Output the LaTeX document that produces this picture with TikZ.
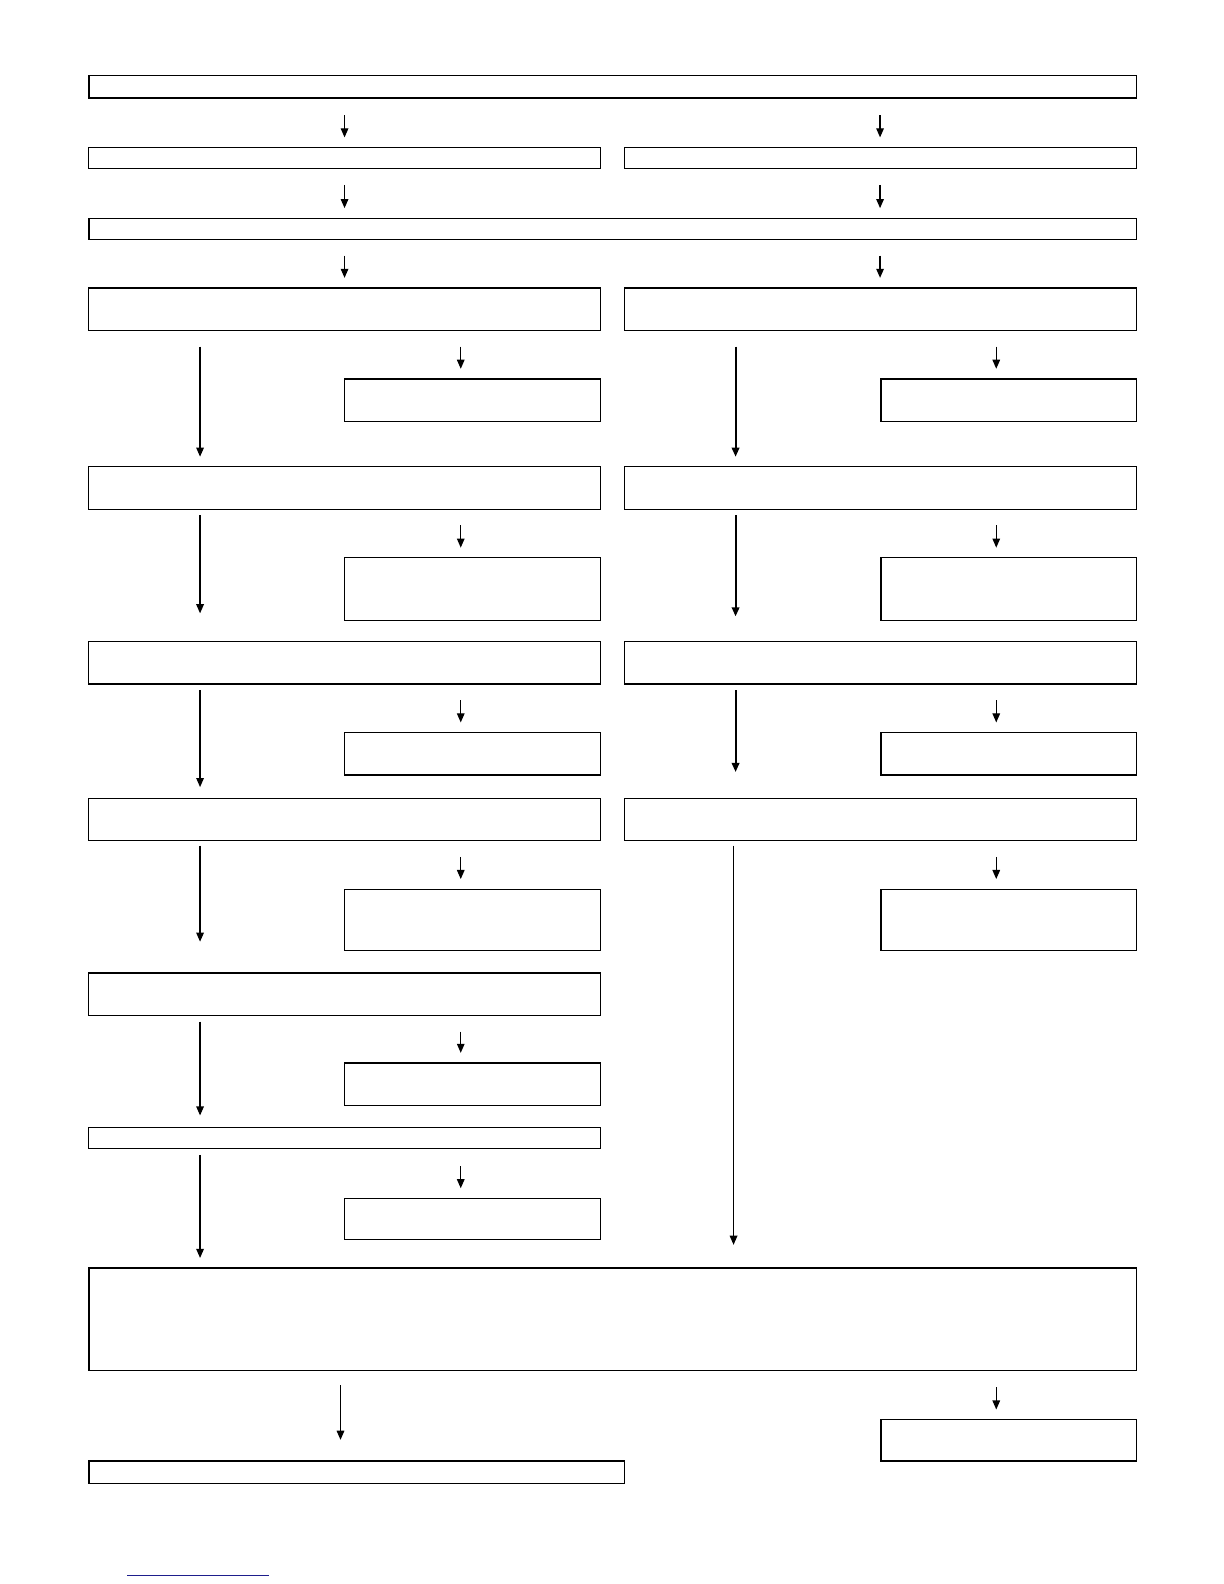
\documentclass[tikz,border=0pt]{standalone}
\usetikzlibrary{arrows.meta}
\definecolor{linkblue}{RGB}{30,30,140}
\tikzset{
  box/.style={draw, line width=1.2pt, inner sep=0, outer sep=0},
  wide/.style={box, minimum width=1037pt},
  half/.style={box, minimum width=507pt},
  side/.style={box, minimum width=253pt},
  flow/.style={-{Triangle[length=9pt,width=7.5pt]}, line width=1.2pt},
  short/.style={flow, shorten <=16pt, shorten >=10pt},
  heavy/.style={flow, line width=1.9pt}
}
\begin{document}
\begin{tikzpicture}[x=1pt,y=-1pt]
    \useasboundingbox (0,0) rectangle (1211.4,1567.7);
    % main boxes
    \node[wide, minimum height=22pt] (top) at (606.5,86) {};
    \node[half, minimum height=21pt] (lone) at (341,156.5) {};
    \node[half, minimum height=21pt] (rone) at (871.5,156.5) {};
    \node[wide, minimum height=21pt] (merge) at (606.5,226.5) {};
    \node[half, minimum height=42pt] (lstep1) at (341,306) {};
    \node[half, minimum height=42pt] (rstep1) at (871.5,306) {};
    \node[half, minimum height=42pt] (lstep2) at (341,483) {};
    \node[half, minimum height=42pt] (rstep2) at (871.5,483) {};
    \node[half, minimum height=42pt] (lstep3) at (341,656) {};
    \node[half, minimum height=42pt] (rstep3) at (871.5,656) {};
    \node[half, minimum height=42pt] (lstep4) at (341,811) {};
    \node[half, minimum height=42pt] (rstep4) at (871.5,811) {};
    \node[half, minimum height=42pt] (lstep5) at (341,984) {};
    \node[half, minimum height=21pt] (lstep6) at (341,1126.5) {};
    \node[wide, minimum height=101pt] (result) at (606.5,1305.5) {};
    \node[box, minimum width=530pt, minimum height=22pt] (final) at (353,1457) {};
    % side boxes
    \node[side, minimum height=42pt] (lnote1) at (467.5,396) {};
    \node[side, minimum height=42pt] (rnote1) at (998.5,396) {};
    \node[side, minimum height=62pt] (lnote2) at (467.5,583) {};
    \node[side, minimum height=62pt] (rnote2) at (998.5,583) {};
    \node[side, minimum height=42pt] (lnote3) at (467.5,746) {};
    \node[side, minimum height=42pt] (rnote3) at (998.5,746) {};
    \node[side, minimum height=61pt] (lnote4) at (467.5,910.5) {};
    \node[side, minimum height=61pt] (rnote4) at (998.5,910.5) {};
    \node[side, minimum height=42pt] (lnote5) at (467.5,1073) {};
    \node[side, minimum height=41pt] (lnote6) at (467.5,1206.5) {};
    \node[side, minimum height=41pt] (rnote5) at (998.5,1425.5) {};
    % short arrows
    \draw[short, shorten <=17pt] (341,0 |- top.south) -- (lone.north);
    \draw[short, shorten <=17pt] (871,0 |- top.south) -- (871,0 |- rone.north);
    \draw[short] (lone.south) -- (341,0 |- merge.north);
    \draw[short] (871,0 |- rone.south) -- (871,0 |- merge.north);
    \draw[short] (341,0 |- merge.south) -- (lstep1.north);
    \draw[short] (871,0 |- merge.south) -- (871,0 |- rstep1.north);
    \draw[short] (456,0 |- lstep1.south) -- (456,0 |- lnote1.north);
    \draw[short] (986,0 |- rstep1.south) -- (986,0 |- rnote1.north);
    \draw[short] (456,0 |- lstep2.south) -- (456,0 |- lnote2.north);
    \draw[short] (986,0 |- rstep2.south) -- (986,0 |- rnote2.north);
    \draw[short] (456,0 |- lstep3.south) -- (456,0 |- lnote3.north);
    \draw[short] (986,0 |- rstep3.south) -- (986,0 |- rnote3.north);
    \draw[short] (456,0 |- lstep4.south) -- (456,0 |- lnote4.north);
    \draw[short] (986,0 |- rstep4.south) -- (986,0 |- rnote4.north);
    \draw[short] (456,0 |- lstep5.south) -- (456,0 |- lnote5.north);
    \draw[short, shorten <=17pt] (456,0 |- lstep6.south) -- (456,0 |- lnote6.north);
    \draw[short, shorten <=17pt] (986,0 |- result.south) -- (986,0 |- rnote5.north);
    % long arrows, left column
    \draw[flow, shorten <=16pt, shorten >=10pt] (198,0 |- lstep1.south) -- (198,0 |- lstep2.north);
    \draw[flow, shorten <=6pt, shorten >=28pt] (198,0 |- lstep2.south) -- (198,0 |- lstep3.north);
    \draw[flow, shorten <=6pt, shorten >=11pt] (198,0 |- lstep3.south) -- (198,0 |- lstep4.north);
    \draw[flow, shorten <=5pt, shorten >=31pt] (198,0 |- lstep4.south) -- (198,0 |- lstep5.north);
    \draw[flow, shorten <=6pt, shorten >=12pt] (198,0 |- lstep5.south) -- (198,0 |- lstep6.north);
    \draw[flow, shorten <=6pt, shorten >=10pt] (198,0 |- lstep6.south) -- (198,0 |- result.north);
    % long arrows, right column
    \draw[heavy, shorten <=16pt, shorten >=10pt] (728,0 |- rstep1.south) -- (728,0 |- rstep2.north);
    \draw[heavy, shorten <=6pt, shorten >=25pt] (728,0 |- rstep2.south) -- (728,0 |- rstep3.north);
    \draw[heavy, shorten <=6pt, shorten >=26pt] (728,0 |- rstep3.south) -- (728,0 |- rstep4.north);
    \draw[flow, shorten <=5pt, shorten >=23pt] (726,0 |- rstep4.south) -- (726,0 |- result.north);
    \draw[flow, shorten <=15pt, shorten >=21pt] (337,0 |- result.south) -- (337,0 |- final.north);
    % link underline
    \draw[linkblue, line width=1pt] (125.7,1558.8) -- (266,1558.8);
  \end{tikzpicture}
\end{document}
